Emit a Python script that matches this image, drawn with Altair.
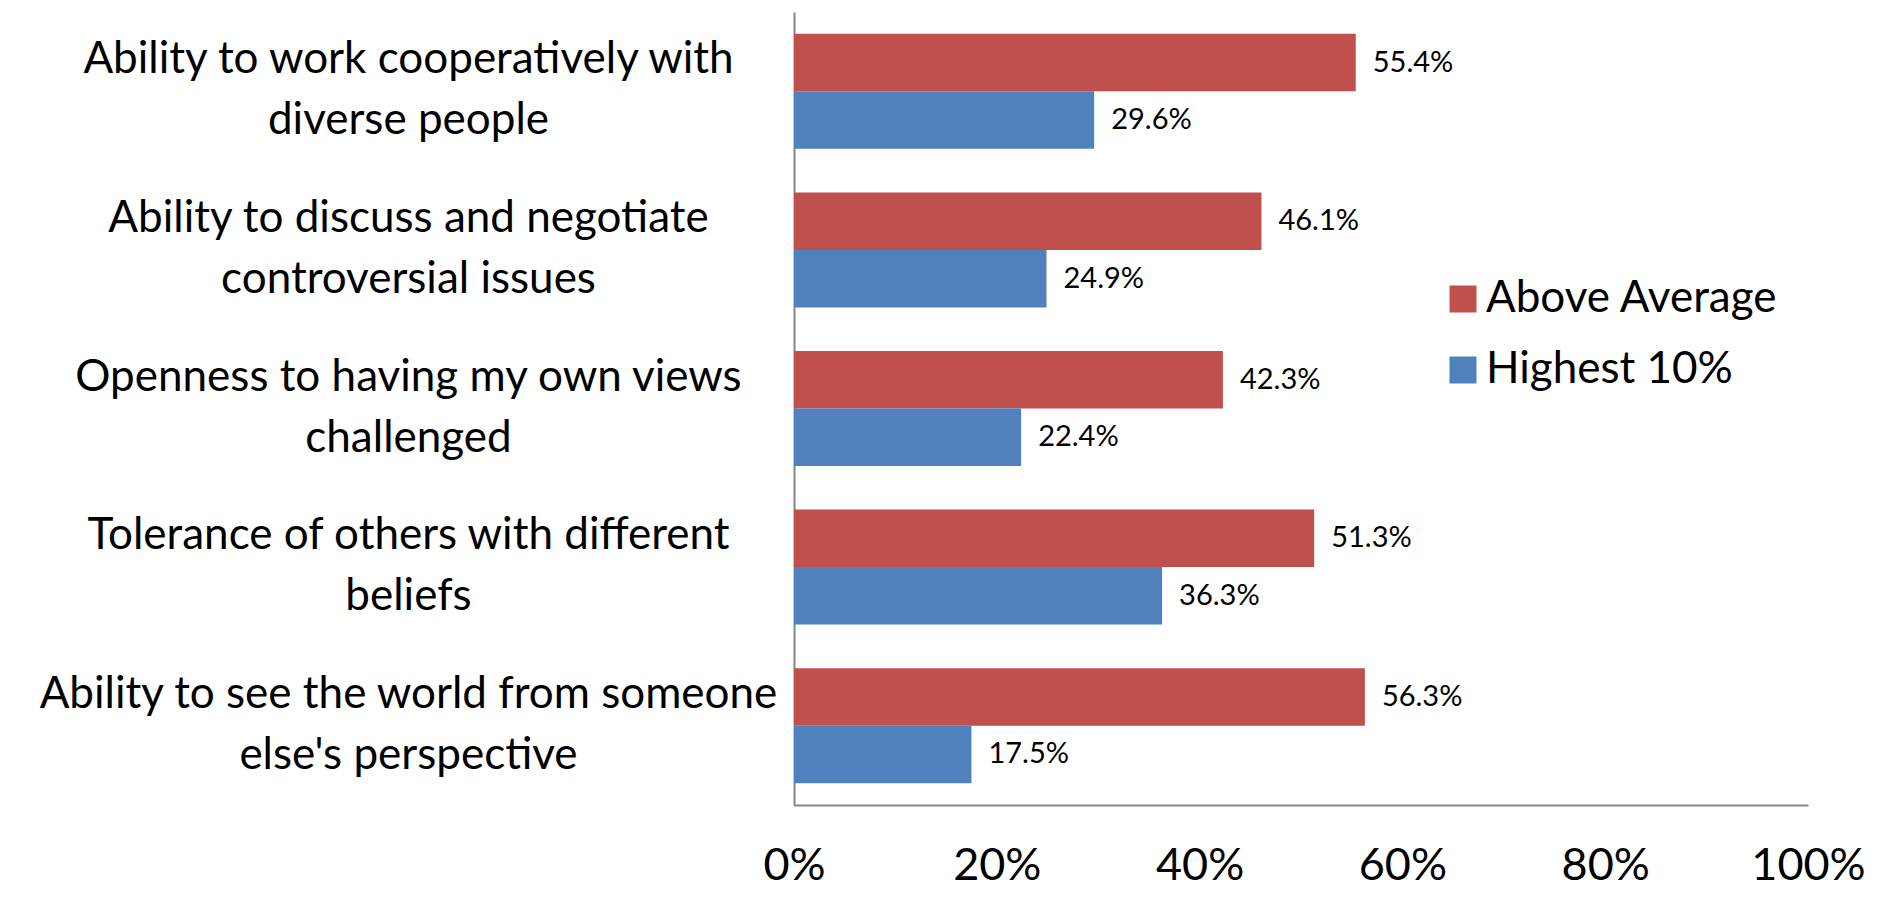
import altair as alt
import pandas as pd

categories = [
    "Ability to work cooperatively with\ndiverse people",
    "Ability to discuss and negotiate\ncontroversial issues",
    "Openness to having my own views\nchallenged",
    "Tolerance of others with different\nbeliefs",
    "Ability to see the world from someone\nelse's perspective",
]
series = ["Above Average", "Highest 10%"]
above_average = [0.554, 0.461, 0.423, 0.513, 0.563]
highest_10 = [0.296, 0.249, 0.224, 0.363, 0.175]
colors = ["#C0504D", "#4F81BD"]
x_ticks = [0, 0.2, 0.4, 0.6, 0.8, 1.0]

rows = []
for c, a, h in zip(categories, above_average, highest_10):
    rows.append({"category": c, "series": series[0], "value": a})
    rows.append({"category": c, "series": series[1], "value": h})
df = pd.DataFrame(rows)

FONT = "Lato"
AXIS_COLOR = "#868686"

base = alt.Chart(df).encode(
    y=alt.Y(
        "category:N",
        sort=categories,
        scale=alt.Scale(paddingInner=0.275, paddingOuter=0.1375),
        axis=alt.Axis(
            title=None,
            ticks=False,
            domainColor=AXIS_COLOR,
            domainWidth=2,
            labelFont=FONT,
            labelFontSize=44,
            labelColor="black",
            labelAlign="center",
            labelBaseline="middle",
            labelPadding=386,
            labelOffset=-31,
            labelLineHeight=61,
            labelLimit=0,
            labelExpr="split(datum.label, '\\n')",
        ),
    ),
    yOffset=alt.YOffset("series:N", sort=series),
    x=alt.X(
        "value:Q",
        scale=alt.Scale(domain=[0, 1], nice=False),
        axis=alt.Axis(
            title=None,
            values=x_ticks,
            format=".0%",
            grid=False,
            ticks=False,
            domainColor=AXIS_COLOR,
            domainWidth=2,
            labelFont=FONT,
            labelFontSize=45,
            labelColor="black",
            labelPadding=74,
            labelBaseline="alphabetic",
            labelFlush=False,
        ),
    ),
)

bars = base.mark_bar().encode(
    color=alt.Color(
        "series:N",
        sort=series,
        scale=alt.Scale(domain=series, range=colors),
        legend=alt.Legend(
            title=None,
            orient="none",
            legendX=647,
            legendY=265,
            symbolType="square",
            symbolSize=729,
            symbolStrokeWidth=0,
            labelFont=FONT,
            labelFontSize=44,
            labelColor="black",
            labelOffset=1,
            rowPadding=27,
            padding=0,
            labelLimit=0,
        ),
    )
)

labels = base.mark_text(
    align="left", baseline="middle", dx=17, font=FONT, fontSize=29, color="black"
).encode(text=alt.Text("value:Q", format=".1%"))

chart = (
    alt.layer(bars, labels)
    .properties(
        width=1014,
        height=793,
        autosize=alt.AutoSizeParams(type="none"),
        padding={"left": 786, "top": 4, "right": 60, "bottom": 85},
    )
    .configure_view(stroke=None)
)

chart.save("out.html", embed_options={"renderer": "svg", "actions": False})
